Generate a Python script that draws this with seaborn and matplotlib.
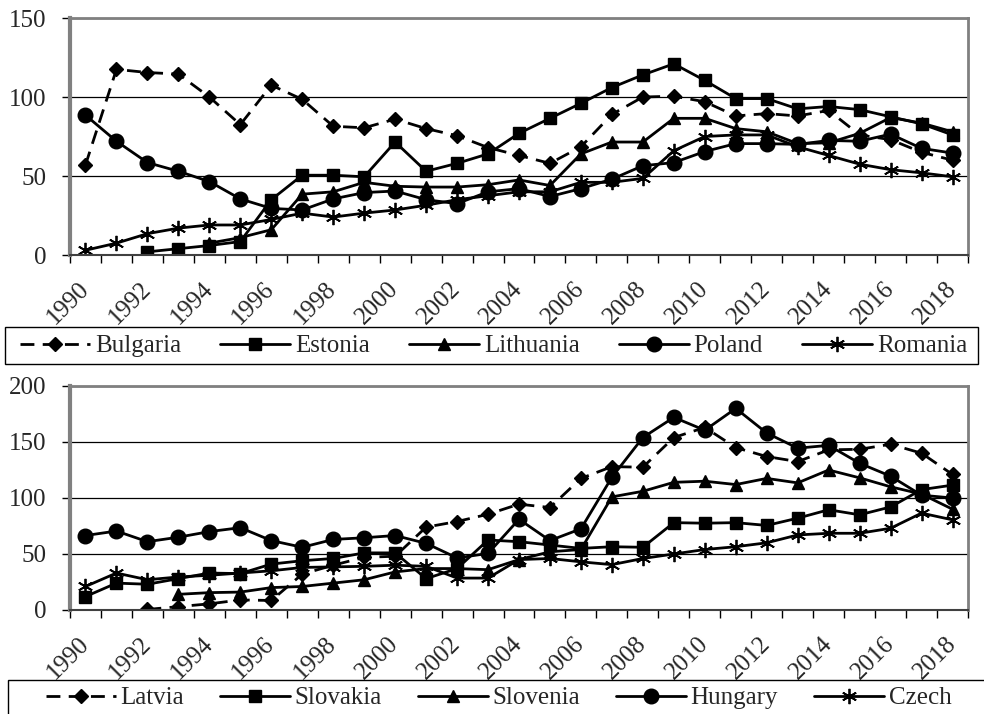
import numpy as np
import pandas as pd
import matplotlib
matplotlib.use("Agg")
import matplotlib.pyplot as plt
from matplotlib.patches import Rectangle
import seaborn as sns

nan = np.nan
years = list(range(1990, 2019))
tick_years = list(range(1990, 2019, 2))

# ---- top panel ----
top_names = ["Bulgaria", "Estonia", "Lithuania", "Poland", "Romania"]
bulgaria = [57, 117.5, 115.5, 114.5, 100, 82.5, 107.5, 98.5, 81.5, 80.5,
            86, 80, 75.5, 68, 63, 58, 68.5, 89, 100, 100.5,
            97, 88, 89.5, 88, 91.5, 76, 73, 65, 60]
estonia = [nan, nan, 2, 4, 6, 8.5, 35, 50.5, 50.5, 49.5,
           71.5, 53, 58, 64, 77, 86.5, 96, 106, 114, 121,
           110.5, 99, 99, 92.5, 94, 92, 87.5, 83, 76]
lithuania = [nan, nan, nan, nan, 7.5, 11, 16, 38.5, 40, 46,
             43.5, 43, 43, 44.5, 47.5, 44, 64, 71.5, 71.5, 86.5,
             86.5, 80, 78, 70.5, 71, 77, 87, 83.5, 78]
poland = [88.5, 72, 58.5, 53, 46.5, 35.5, 29.5, 28.5, 35.5, 39.5,
          40.5, 35, 32.5, 40, 42, 37, 42, 48, 56.5, 58.5,
          65.5, 70.5, 70.5, 70, 72.5, 72, 76.5, 67.5, 64.5]
romania = [3, 7.5, 13.5, 17, 19, 19, 22.5, 26.5, 24, 26.5,
           28.5, 31.5, 35, 37.5, 40, 40, 46, 46, 48.5, 66,
           75, 76, 76, 68.5, 63, 57.5, 54, 52, 49.5]

# ---- bottom panel ----
bottom_names = ["Latvia", "Slovakia", "Slovenia", "Hungary", "Czech"]
latvia = [nan, nan, 0.5, 3, 5.5, 9, 8.5, 32, 40, 47,
          48, 74, 79, 85.5, 94.5, 91.5, 117.5, 128, 127.5, 154,
          163, 145, 137, 132.5, 143, 143.5, 148, 140, 121]
slovakia = [12, 24, 23, 28, 33, 32.5, 41, 44, 46, 51,
            51, 28, 37, 62.5, 61, 58, 55, 56.5, 56, 78,
            77.5, 78, 75.5, 82, 89.5, 85, 92, 107.5, 111.5]
slovenia = [nan, nan, nan, 14, 15.5, 16, 20, 21, 24, 27,
            34, 37, 37, 36, 45, 52, 54, 101, 106, 114,
            115, 112, 117.5, 113.5, 125, 118, 110, 103.5, 90]
hungary = [66.5, 70.5, 61, 65, 70, 73.5, 62, 56, 63, 64.5,
           66.5, 59.5, 46.5, 50.5, 81, 62, 72.5, 118.5, 154, 172,
           160.5, 180, 158, 144.5, 147, 131, 119.5, 102.5, 100]
czech = [21, 33, 27, 29.5, 31, 33, 35, 38, 38.5, 39,
         40, 39, 28.5, 28.5, 45, 46, 43, 40.5, 46, 50,
         54, 56.5, 60, 67, 68.5, 68.5, 73, 86.5, 80.5]

top_series = [bulgaria, estonia, lithuania, poland, romania]
bottom_series = [latvia, slovakia, slovenia, hungary, czech]

# marker styles per position (same order in both panels)
styles = [
    dict(marker="D", markersize=7, linestyle=(0, (5, 3))),
    dict(marker="s", markersize=8, linestyle="-"),
    dict(marker="^", markersize=8.5, linestyle="-"),
    dict(marker="o", markersize=10.5, linestyle="-"),
    dict(marker=(6, 2, 0), markersize=11, linestyle="-", markeredgewidth=1.3),
]

sns.set_theme(style="white")
plt.rcParams["font.family"] = ["Liberation Serif", "DejaVu Serif"]
plt.rcParams["font.size"] = 18

W, H = 984, 714
fig = plt.figure(figsize=(W / 100, H / 100), dpi=100)
ax1 = fig.add_axes([70 / W, 1 - 255 / H, 898 / W, 237 / H])
ax2 = fig.add_axes([70 / W, 1 - 610 / H, 898 / W, 224 / H])


def draw(ax, names, series, ymax, yticks):
    for name, vals, st in zip(names, series, styles):
        df = pd.DataFrame({"year": years, "value": vals})
        kw = dict(st)
        kw.setdefault("markeredgewidth", 1.0)
        sns.lineplot(data=df, x="year", y="value", ax=ax, color="black",
                     linewidth=2, markeredgecolor="black",
                     markerfacecolor="black", label=name, errorbar=None,
                     estimator=None, **kw)
    ax.set_xlim(1989.5, 2018.5)
    ax.set_ylim(0, ymax)
    ax.set_yticks(yticks)
    ax.set_yticklabels([str(v) for v in yticks], fontsize=18)
    ax.set_xticks(tick_years)
    ax.set_xticklabels([str(y) for y in tick_years], rotation=45,
                       ha="right", va="center", rotation_mode="anchor",
                       fontsize=18)
    ax.set_xticks(np.arange(1989.5, 2019, 1.0), minor=True)
    ax.tick_params(axis="x", which="major", length=0, pad=22)
    ax.tick_params(axis="x", which="minor", length=6, width=1,
                   color="black", direction="out", bottom=True)
    ax.tick_params(axis="y", which="major", length=6, width=1,
                   color="black", direction="out", left=True, pad=11)
    ax.set_xlabel("")
    ax.set_ylabel("")
    ax.yaxis.grid(True, color="black", linewidth=0.9)
    ax.xaxis.grid(False)
    ax.set_axisbelow(True)
    for s in ["top", "right"]:
        ax.spines[s].set_color("#808080")
        ax.spines[s].set_linewidth(2)
    ax.spines["left"].set_color("#808080")
    ax.spines["left"].set_linewidth(3)
    ax.spines["bottom"].set_color("#404040")
    ax.spines["bottom"].set_linewidth(1.5)
    leg = ax.get_legend()
    if leg is not None:
        leg.remove()
    return ax.get_legend_handles_labels()


h1, l1 = draw(ax1, top_names, top_series, 150, [0, 50, 100, 150])
h2, l2 = draw(ax2, bottom_names, bottom_series, 200, [0, 50, 100, 150, 200])

# legend boxes (pixel coords from top-left) and legend centres
legend_specs = [
    (h1, l1, (5, 327, 978, 364), (493.5, 346), 1.56),
    (h2, l2, (8, 680, 992, 718), (498.5, 698), 1.42),
]
for h, l, (x0, y0, x1, y1), (cx, cy), cs in legend_specs:
    fig.patches.append(Rectangle((x0 / W, 1 - y1 / H), (x1 - x0) / W,
                                 (y1 - y0) / H, transform=fig.transFigure,
                                 facecolor="white", edgecolor="black",
                                 linewidth=1.0, zorder=0))
    leg = fig.legend(h, l, loc="center", bbox_to_anchor=(cx / W, 1 - cy / H),
                     ncol=5, frameon=False, handlelength=2.8,
                     handletextpad=0.2, columnspacing=cs, borderpad=0,
                     borderaxespad=0, fontsize=18, numpoints=1)

fig.savefig("out.png", dpi=100)
